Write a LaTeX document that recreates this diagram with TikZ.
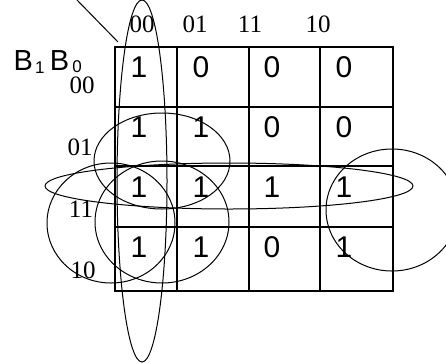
\documentclass[tikz,border=0pt]{standalone}
\usepackage{fontspec}
\setmainfont{Liberation Serif}
\newfontfamily\arialf{Liberation Sans}
\begin{document}
\begin{tikzpicture}[x=1pt,y=-1pt,
  grid/.style={line width=1.4pt},
  loop/.style={line width=1pt},
  cellval/.style={font=\arialf\fontsize{30}{32}\selectfont, anchor=base, inner sep=0pt},
  lbl/.style={font=\fontsize{25}{27}\selectfont, anchor=base, inner sep=0pt}]
\useasboundingbox (0,0) rectangle (446,362);
\clip (0,0) rectangle (446,362);
% grid
\draw[grid] (115,47) rectangle (393,291);
\foreach \x in {177,249,320} \draw[grid] (\x,47) -- (\x,291);
\foreach \y in {107,166,227} \draw[grid] (115,\y) -- (393,\y);
% column headers
\node[lbl] (c00) at (142,32) {00};
\node[lbl] (c01) at (195,32) {01};
\node[lbl] (c11) at (250,32) {11};
\node[lbl] (c10) at (318,32) {10};
% row labels
\node[lbl] (r00) at (82,93) {00};
\node[lbl] (r01) at (80,155) {01};
\node[lbl] (r11) at (81,217) {11};
\node[lbl] (r10) at (83,278) {10};
% variable label
\node[anchor=base west, inner sep=0pt, font=\arialf\fontsize{29}{31}\selectfont] (bb) at (13.5,70)
  {B\kern2pt\raisebox{-3pt}{\fontsize{17}{18}\selectfont 1}\hspace{5.5pt}B\kern3pt\raisebox{-2.5pt}{\fontsize{17}{18}\selectfont 0}};
% cell values
\foreach \v/\xx in {1/139,0/201,0/272,0/344} \node[cellval] at (\xx,77) {\v};
\foreach \v/\xx in {1/139,1/201,0/272,0/344} \node[cellval] at (\xx,137) {\v};
\foreach \v/\xx in {1/139,1/201,1/272,1/344} \node[cellval] at (\xx,197) {\v};
\foreach \v/\xx in {1/139,1/201,0/272,1/344} \node[cellval] at (\xx,257) {\v};
% diagonal line
\coordinate (dtop) at (77,0);
\coordinate (dbot) at (118,42);
\draw[line width=1pt] (dtop) -- (dbot);
% groupings
\draw[loop] (142,181) ellipse [x radius=25, y radius=181];
\draw[loop] (229,186) ellipse [x radius=184, y radius=23];
\draw[loop] (162,161) ellipse [x radius=68, y radius=48];
\draw[loop] (162,222) ellipse [x radius=67, y radius=61];
\draw[loop] (111,223) ellipse [x radius=64, y radius=60];
\draw[loop] (392,210) ellipse [x radius=66, y radius=61];
\end{tikzpicture}
\end{document}
